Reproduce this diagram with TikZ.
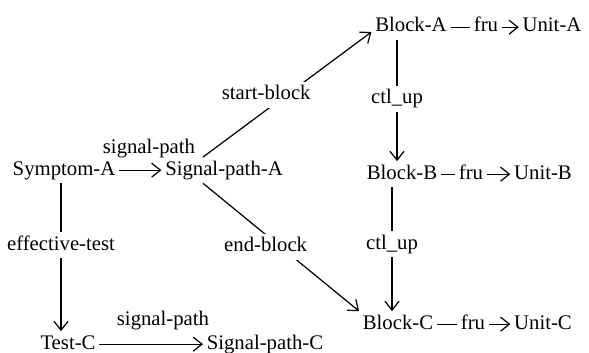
\documentclass[tikz,border=0pt]{standalone}
\usepackage{fontspec}
\setmainfont{Liberation Serif}
\usepackage{tikz}
\usetikzlibrary{arrows.meta}

\begin{document}
\begin{tikzpicture}[
		font=\fontsize{11.8}{14}\selectfont,
		term/.style={anchor=base, inner sep=2pt, text height=8pt, text depth=2.5pt},
		lbl/.style={inner sep=2pt, text height=8pt, text depth=2.5pt, fill=white},
		link/.style={line width=0.7pt},
		>={Straight Barb[length=5pt,width=8pt]}
	]
			\useasboundingbox (0,0) rectangle (11.78,7.04);
			\node [term] (symA) at (1.28,3.54) {Symptom-A};
			\node [term] (sigA) at (4.48,3.54) {Signal-path-A};
			\node [term] (blkA) at (8.22,6.40) {Block-A};
			\node [term] (fruA) at (9.72,6.40) {fru};
			\node [term] (unitA) at (11.04,6.40) {Unit-A};
			\node [term] (blkB) at (8.04,3.46) {Block-B};
			\node [term] (fruB) at (9.42,3.46) {fru};
			\node [term] (unitB) at (10.86,3.46) {Unit-B};
			\node [term] (blkC) at (7.96,0.46) {Block-C};
			\node [term] (fruC) at (9.46,0.46) {fru};
			\node [term] (unitC) at (10.86,0.46) {Unit-C};
			\node [term] (testC) at (1.36,0.06) {Test-C};
			\node [term] (sigC) at (5.30,0.06) {Signal-path-C};
			\node [term] (spA) at (2.98,3.96) {signal-path};
			\node [term] (spC) at (3.26,0.54) {signal-path};
			\node [term] (effT) at (1.22,2.04) {effective-test};
			\node [term] (ctlA) at (7.94,4.96) {ctl\_up};
			\node [term] (ctlB) at (7.84,2.06) {ctl\_up};
			% left column
			\draw [link, ->] (symA) -- (sigA);
			\draw [link] (symA.south -| effT) -- (effT);
			\draw [link, ->] (effT) -- (testC.north -| effT);
			\draw [link, ->] (testC) -- (sigC);
			% block chain
			\draw [link, ->] ([xshift=-0.42cm]sigA.north) -- node [lbl, pos=0.42, xshift=-0.15cm, yshift=0.19cm] (stB) {start-block} (blkA.base west);
			\draw [link, ->] ([xshift=-0.42cm]sigA.south) -- node [lbl, pos=0.44, xshift=-0.12cm, yshift=-0.15cm] (enB) {end-block} (blkC.north west);
			\draw [link] (blkA.south -| ctlA) -- (ctlA);
			\draw [link, ->] (ctlA) -- (blkB.north -| ctlA);
			\draw [link] (blkB.south -| ctlB) -- (ctlB);
			\draw [link, ->] (ctlB) -- (blkC.north -| ctlB);
			% fru links
			\draw [link] (blkA) -- (fruA);
			\draw [link, ->] (fruA) -- (unitA);
			\draw [link] (blkB) -- (fruB);
			\draw [link, ->] (fruB) -- (unitB);
			\draw [link] (blkC) -- (fruC);
			\draw [link, ->] (fruC) -- (unitC);
		\end{tikzpicture}
\end{document}
